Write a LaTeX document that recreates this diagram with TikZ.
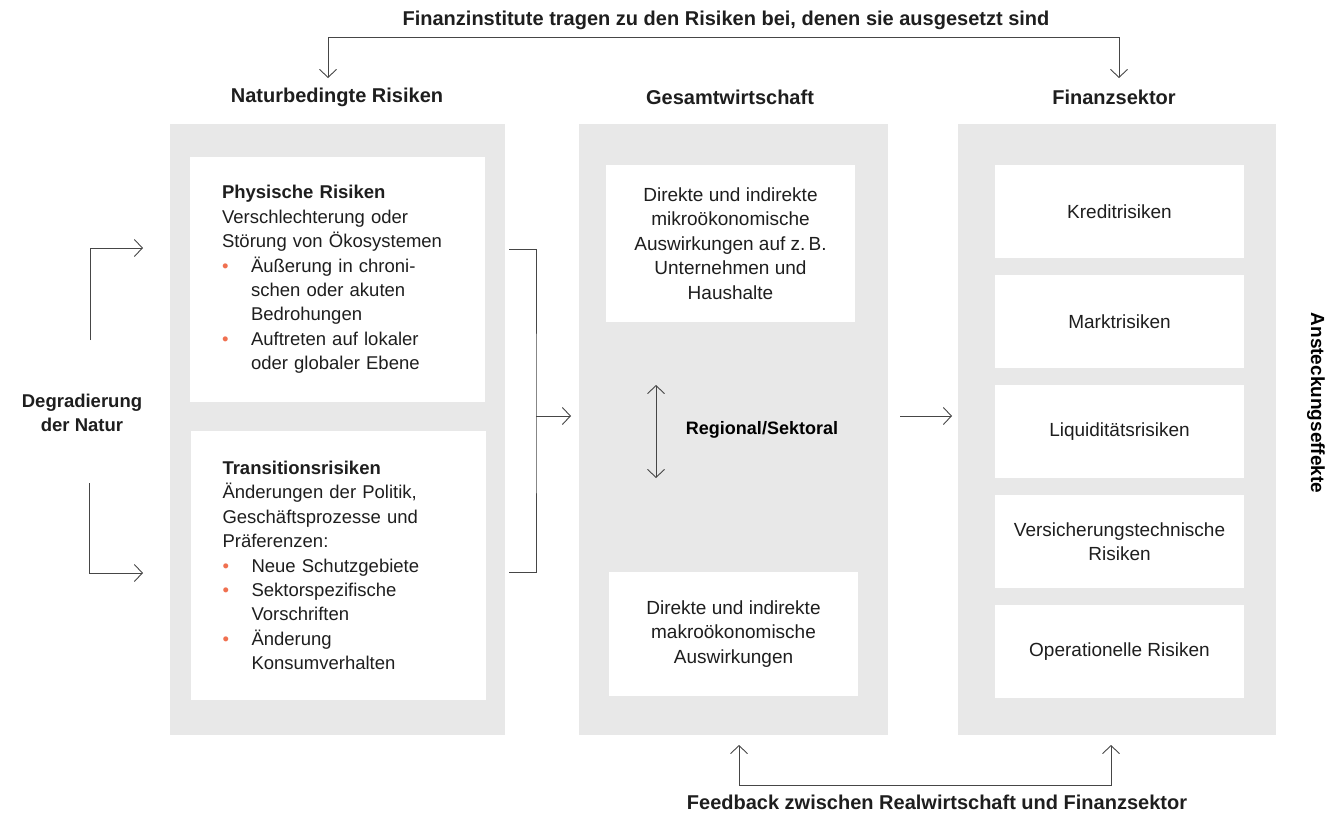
\documentclass[tikz,border=0pt]{standalone}
\usepackage{fontspec}
\setmainfont{Liberation Sans}
\usepackage{tikz}
\usetikzlibrary{positioning,arrows.meta
  ,matrix}
\definecolor{panelgray}{RGB}{232,232,232}
\definecolor{linegray}{RGB}{70,70,70}
\definecolor{bulletorange}{RGB}{240,112,80}
\definecolor{textdark}{RGB}{30,30,30}
\tikzset{
  riskdiagram/.style={
    x=1pt,y=-1pt
    ,inner sep=0pt
    ,outer sep=0pt
    ,>={Straight Barb[length=8pt,width=17pt]}
  }
  ,conn/.style={draw=linegray, line width=.9pt}
  ,panel/.style={fill=panelgray, minimum height=611pt}
  ,header/.style={font=\fontsize{20}{24}\selectfont\bfseries\color{textdark}}
  ,sidelabel/.style={font=\fontsize{18.5}{24}\selectfont\bfseries\color{textdark}}
  ,plain/.style={font=\fontsize{19}{24.4}\selectfont\color{textdark}}
  ,leftbox/.style={plain
    ,font=\fontsize{18.5}{24.4}\selectfont\color{textdark}
    ,fill=white
    ,text width=231pt
    ,inner xsep=32pt
    ,align=left
  }
  ,midbox/.style={plain,fill=white,minimum width=249pt,align=center}
  ,riskbox/.style={plain,fill=white,minimum width=249pt,minimum height=93pt,align=center}
  ,stack/.style={column sep=0pt, row sep=17pt}
}
\newcommand\bul{\makebox[29pt][l]{\textcolor{bulletorange}{\textbullet}}}
\newcommand\cont{\hspace*{29pt}}

\begin{document}
\begin{tikzpicture}[riskdiagram]
    \useasboundingbox (0,0) rectangle (1343,814);
    % panels
    \node[panel,minimum width=335pt] (natpanel) at (337.5,429.5) {};
    \node[panel,minimum width=309pt] (gespanel) at (733.5,429.5) {};
    \node[panel,minimum width=318pt] (finpanel) at (1117,429.5) {};
    % headers
    \node[header] (toptitle) at (726,20) {Finanzinstitute tragen zu den Risiken bei, denen sie ausgesetzt sind};
    \node[header] (natlabel) at (337,97) {Naturbedingte Risiken};
    \node[header] (geslabel) at (730,97) {Gesamtwirtschaft};
    \node[header] (finlabel) at (1114,97) {Finanzsektor};
    % nature
    \node[leftbox,minimum height=245pt] (phys) at (337.5,279.5) {%
      {\bfseries Physische Risiken}\\
      Verschlechterung oder\\
      Störung von Ökosystemen\\
      \bul Äußerung in chroni-\\
      \cont schen oder akuten\\
      \cont Bedrohungen\\
      \bul Auftreten auf lokaler\\
      \cont oder globaler Ebene};
    \node[leftbox,minimum height=269pt] (trans) at (338,565.5) {%
      {\bfseries Transitionsrisiken}\\
      Änderungen der Politik,\\
      Geschäftsprozesse und\\
      Präferenzen:\\
      \bul Neue Schutzgebiete\\
      \bul Sektorspezifische\\
      \cont Vorschriften\\
      \bul Änderung\\
      \cont Konsumverhalten};
    % economy
    \node[midbox,minimum height=157pt] (mikro) at (730.5,243.5) {Direkte und indirekte\\mikroökonomische\\Auswirkungen auf z.\,B.\\Unternehmen und\\Haushalte};
    \node[midbox,minimum height=124pt] (makro) at (733.5,634) {Direkte und indirekte\\makroökonomische\\Auswirkungen};
    \node[sidelabel,font=\fontsize{18}{24}\selectfont\bfseries] (regio) at (762,430) {Regional/Sektoral};
    \coordinate (regtop) at (656,385);
    \coordinate (regbot) at (656,478);
    \draw[conn,<->] (regtop) -- (regbot);
    % financial sector
    \matrix[stack] (risks) at (1119.5,431.5) {
      \node[riskbox] (kredit) {Kreditrisiken};
      \\
      \node[riskbox] (markt) {Marktrisiken};
      \\
      \node[riskbox] (liqui) {Liquiditätsrisiken};
      \\
      \node[riskbox] (versich) {Versicherungstechnische\\Risiken};
      \\
      \node[riskbox] (opera) {Operationelle Risiken};
      \\
    };
    \node[sidelabel,font=\fontsize{19}{24}\selectfont\bfseries,rotate=-90] (contagion) at (1316,403) {Ansteckungseffekte};
    % degradation
    \node[sidelabel,align=center] (degr) at (82,413) {Degradierung\\der Natur};
    \coordinate (degtop) at (90,340);
    \coordinate (physin) at (143,248);
    \coordinate (degbot) at (89,483);
    \coordinate (transin) at (143,573);
    \draw[conn,->] (degtop) |- (physin);
    \draw[conn,->] (degbot) |- (transin);
    % bracket into economy
    \coordinate (brtop) at (509,249);
    \coordinate (brbot) at (509,572);
    \coordinate (brmid) at (536,416);
    \draw[conn] (brtop) -| (brmid) |- (brbot);
    \draw[conn,->,shorten >=8pt] (brmid) -- (brmid -| gespanel.west);
    \draw[conn,->,shorten <=12pt,shorten >=6pt] (gespanel.east |- brmid) -- (finpanel.west |- brmid);
    % top feedback
    \coordinate (topl) at (328,37);
    \coordinate (topr) at (1119,37);
    \coordinate (natin) at (328,78);
    \coordinate (finin) at (1119,78);
    \draw[conn,<->] (natin) -- (topl) -- (topr) -- (finin);
    % bottom feedback
    \node[header] (feedback) at (937,802) {Feedback zwischen Realwirtschaft und Finanzsektor};
    \coordinate (gesout) at (739,745);
    \coordinate (finout) at (1111,745);
    \coordinate (fbl) at (739,785);
    \coordinate (fbr) at (1111,785);
    \draw[conn,<->] (gesout) -- (fbl) -- (fbr) -- (finout);
\end{tikzpicture}
\end{document}
